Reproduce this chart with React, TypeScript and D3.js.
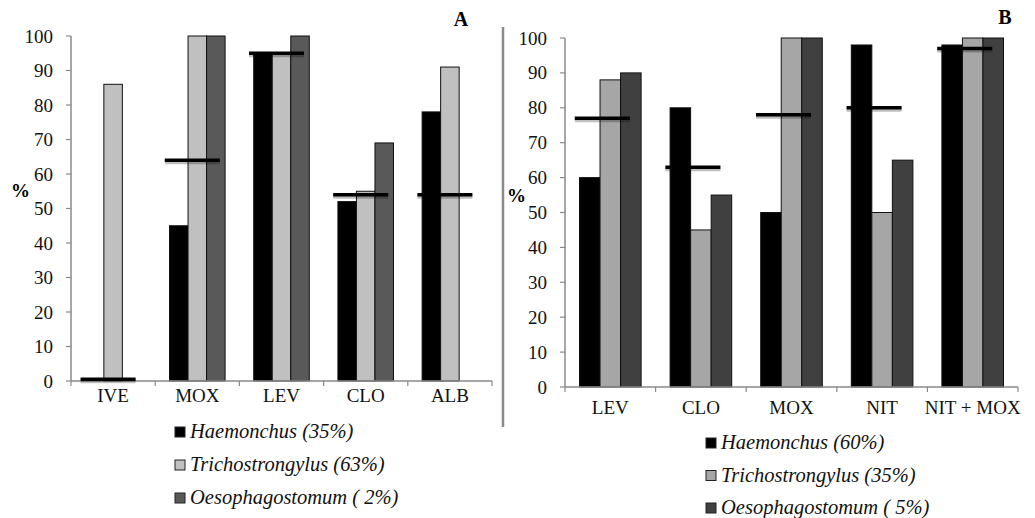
import React from "react";
import * as d3 from "d3";

// ---- Data ----
const seriesNames = ["Haemonchus", "Trichostrongylus", "Oesophagostomum"];

const catsA = ["IVE", "MOX", "LEV", "CLO", "ALB"];
const haemA = [0, 45, 95, 52, 78];
const trichA = [86, 100, 95, 55, 91];
const oesoA = [0, 100, 100, 69, 0];
const refA = [0.5, 64, 95, 54, 54];
const legendA = ["Haemonchus (35%)", "Trichostrongylus (63%)", "Oesophagostomum ( 2%)"];

const catsB = ["LEV", "CLO", "MOX", "NIT", "NIT + MOX"];
const haemB = [60, 80, 50, 98, 98];
const trichB = [88, 45, 100, 50, 100];
const oesoB = [90, 55, 100, 65, 100];
const refB = [77, 63, 78, 80, 97];
const legendB = ["Haemonchus (60%)", "Trichostrongylus (35%)", "Oesophagostomum ( 5%)"];

const yTicks = [0, 10, 20, 30, 40, 50, 60, 70, 80, 90, 100];

const FONT = "'Liberation Serif', 'Times New Roman', serif";

type PanelProps = {
  cats: string[];
  values: number[][];
  refs: number[];
  colors: string[];
  legend: string[];
  title: string;
  x0: number;
  x1: number;
  yTop: number;
  yBottom: number;
  groupFrac: number;
  refWidth: number;
  refShift: number;
  catY: number;
  pctX: number;
  pctY: number;
  titleX: number;
  titleY: number;
  legX: number;
  legY0: number;
  legDy: number;
};

function Panel(p: PanelProps) {
  const x = d3.scaleBand<string>().domain(p.cats).range([p.x0, p.x1]).paddingInner(0).paddingOuter(0);
  const bw = x.bandwidth();
  const gw = bw * p.groupFrac;
  const xs = d3
    .scaleBand<string>()
    .domain(seriesNames)
    .range([(bw - gw) / 2, (bw + gw) / 2])
    .padding(0);
  const y = d3.scaleLinear().domain([0, 100]).range([p.yBottom, p.yTop]);
  const axisColor = "#8a8a8a";
  const boundaries = p.cats.map((c) => x(c) as number).concat([p.x1]);

  return (
    <g>
      <text x={p.titleX} y={p.titleY} fontFamily={FONT} fontWeight="bold" fontSize={20} textAnchor="middle" fill="#000">
        {p.title}
      </text>
      <line x1={p.x0} x2={p.x0} y1={y(100)} y2={y(0)} stroke={axisColor} strokeWidth={1.5} />
      {yTicks.map((t) => (
        <g key={t}>
          <line x1={p.x0 - 5} x2={p.x0} y1={y(t)} y2={y(t)} stroke={axisColor} strokeWidth={1.2} />
          <text x={p.x0 - 18} y={y(t) + 6.5} fontFamily={FONT} fontSize={19} textAnchor="end" fill="#111">
            {t}
          </text>
        </g>
      ))}
      <text x={p.pctX} y={p.pctY} fontFamily={FONT} fontWeight="bold" fontSize={19} fill="#000">
        %
      </text>
      {p.cats.map((c, ci) =>
        seriesNames.map((s, si) => {
          const v = p.values[si][ci];
          if (!v) return null;
          const bx = (x(c) as number) + (xs(s) as number);
          return (
            <rect
              key={c + s}
              x={bx}
              y={y(v)}
              width={xs.bandwidth()}
              height={y(0) - y(v)}
              fill={p.colors[si]}
              stroke="#111"
              strokeWidth={1}
            />
          );
        })
      )}
      <line x1={p.x0} x2={p.x1} y1={y(0)} y2={y(0)} stroke={axisColor} strokeWidth={1.5} />
      {boundaries.map((b, i) => (
        <line key={i} x1={b} x2={b} y1={y(0)} y2={y(0) + 5} stroke={axisColor} strokeWidth={1.2} />
      ))}
      {p.cats.map((c) => (
        <text
          key={c}
          x={(x(c) as number) + bw / 2}
          y={p.catY}
          fontFamily={FONT}
          fontSize={19}
          textAnchor="middle"
          fill="#111"
        >
          {c}
        </text>
      ))}
      {p.cats.map((c, ci) => {
        const cx = (x(c) as number) + bw / 2 + p.refShift;
        return (
          <g key={"r" + c}>
            <line
              x1={cx - p.refWidth / 2}
              x2={cx + p.refWidth / 2}
              y1={y(p.refs[ci]) + 1.5}
              y2={y(p.refs[ci]) + 1.5}
              stroke="#000"
              strokeOpacity={0.25}
              strokeWidth={5}
            />
            <line
              x1={cx - p.refWidth / 2}
              x2={cx + p.refWidth / 2}
              y1={y(p.refs[ci])}
              y2={y(p.refs[ci])}
              stroke="#000"
              strokeWidth={3.5}
            />
          </g>
        );
      })}
      {p.legend.map((l, i) => {
        const cy = p.legY0 + i * p.legDy;
        return (
          <g key={l}>
            <rect x={p.legX} y={cy - 5} width={10} height={10} fill={p.colors[i]} stroke="#222" strokeWidth={1} />
            <text x={p.legX + 15} y={cy + 6} fontFamily={FONT} fontStyle="italic" fontSize={20.5} fill="#111">
              {l}
            </text>
          </g>
        );
      })}
    </g>
  );
}

export default function App() {
  return (
    <svg
      width={1035}
      height={518}
      style={{ position: "absolute", left: 0, top: 0, background: "#fff" }}
    >
      <rect x={0} y={0} width={1035} height={518} fill="#fff" />
      <Panel
        cats={catsA}
        values={[haemA, trichA, oesoA]}
        refs={refA}
        colors={["#000000", "#c0c0c0", "#595959"]}
        legend={legendA}
        title="A"
        x0={71}
        x1={492}
        yTop={36}
        yBottom={381}
        groupFrac={0.66}
        refWidth={55}
        refShift={-5}
        catY={402}
        pctX={11}
        pctY={197}
        titleX={461}
        titleY={26}
        legX={175}
        legY0={432}
        legDy={33}
      />
      <line x1={503} x2={503} y1={27} y2={427} stroke="#8a8a8a" strokeWidth={2.5} />
      <Panel
        cats={catsB}
        values={[haemB, trichB, oesoB]}
        refs={refB}
        colors={["#000000", "#a6a6a6", "#404040"]}
        legend={legendB}
        title="B"
        x0={565}
        x1={1018}
        yTop={38}
        yBottom={387}
        groupFrac={0.68}
        refWidth={55}
        refShift={-8}
        catY={414}
        pctX={507}
        pctY={202}
        titleX={1005}
        titleY={24}
        legX={706}
        legY0={443}
        legDy={32.5}
      />
    </svg>
  );
}
